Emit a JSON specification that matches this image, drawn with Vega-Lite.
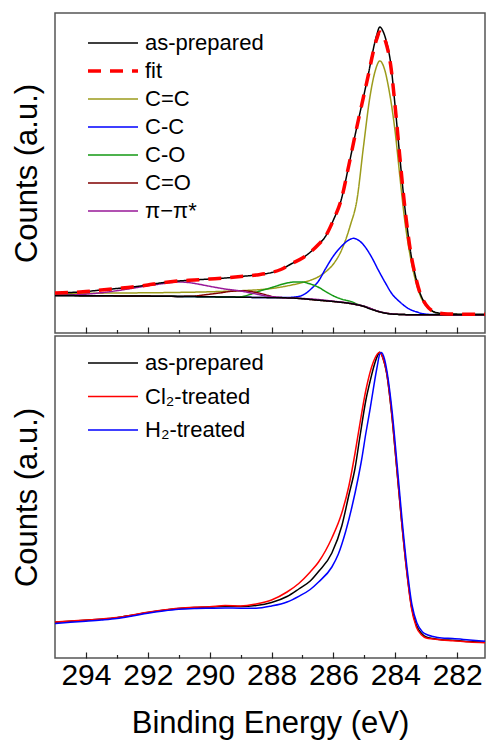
{
  "$schema": "https://vega.github.io/schema/vega-lite/v6.json",
  "padding": {"left": 10, "top": 12, "right": 0, "bottom": 5},
  "spacing": 0,
  "config": {
    "font": "Liberation Sans",
    "view": {"stroke": "#555555", "strokeWidth": 1.5},
    "axis": {"grid": false, "domain": false, "labelFont": "Liberation Sans", "titleFont": "Liberation Sans", "labelColor": "#000000", "titleColor": "#000000", "titleFontWeight": "normal", "tickColor": "#222222", "tickWidth": 1.2},
    "legend": {"labelFont": "Liberation Sans", "labelColor": "#000000", "labelFontSize": 22, "title": null, "orient": "none", "padding": 0, "symbolType": "stroke", "symbolSize": 2500, "symbolOffset": 14, "labelOffset": 21}
  },
  "datasets": {
    "top": [
      {"series": "C=C", "energy": 295, "counts": 39.5},
      {"series": "C=C", "energy": 294, "counts": 39.7},
      {"series": "C=C", "energy": 293, "counts": 40},
      {"series": "C=C", "energy": 292, "counts": 40.2},
      {"series": "C=C", "energy": 291, "counts": 40.6},
      {"series": "C=C", "energy": 290, "counts": 41.2},
      {"series": "C=C", "energy": 289.5, "counts": 41.7},
      {"series": "C=C", "energy": 289, "counts": 42.3},
      {"series": "C=C", "energy": 288.4, "counts": 43.3},
      {"series": "C=C", "energy": 288, "counts": 44.5},
      {"series": "C=C", "energy": 287.35, "counts": 48},
      {"series": "C=C", "energy": 287, "counts": 50.5},
      {"series": "C=C", "energy": 286.5, "counts": 56},
      {"series": "C=C", "energy": 286.26, "counts": 61},
      {"series": "C=C", "energy": 286, "counts": 69},
      {"series": "C=C", "energy": 285.75, "counts": 82},
      {"series": "C=C", "energy": 285.45, "counts": 108},
      {"series": "C=C", "energy": 285.24, "counts": 133},
      {"series": "C=C", "energy": 285.03, "counts": 186},
      {"series": "C=C", "energy": 284.82, "counts": 236},
      {"series": "C=C", "energy": 284.65, "counts": 262},
      {"series": "C=C", "energy": 284.5, "counts": 272},
      {"series": "C=C", "energy": 284.35, "counts": 264},
      {"series": "C=C", "energy": 284.22, "counts": 246},
      {"series": "C=C", "energy": 284, "counts": 200},
      {"series": "C=C", "energy": 283.85, "counts": 156},
      {"series": "C=C", "energy": 283.7, "counts": 114},
      {"series": "C=C", "energy": 283.6, "counts": 92},
      {"series": "C=C", "energy": 283.5, "counts": 74},
      {"series": "C=C", "energy": 283.35, "counts": 53},
      {"series": "C=C", "energy": 283.2, "counts": 38},
      {"series": "C=C", "energy": 283, "counts": 27},
      {"series": "C=C", "energy": 282.8, "counts": 21.6},
      {"series": "C=C", "energy": 282.6, "counts": 19.3},
      {"series": "C=C", "energy": 282.3, "counts": 18.5},
      {"series": "C=C", "energy": 281.1, "counts": 18.3},
      {"series": "C-C", "energy": 295, "counts": 37.5},
      {"series": "C-C", "energy": 292, "counts": 36.9},
      {"series": "C-C", "energy": 289, "counts": 35.8},
      {"series": "C-C", "energy": 288, "counts": 35.4},
      {"series": "C-C", "energy": 287.5, "counts": 35.5},
      {"series": "C-C", "energy": 287.1, "counts": 36.7},
      {"series": "C-C", "energy": 286.9, "counts": 39.5},
      {"series": "C-C", "energy": 286.69, "counts": 45},
      {"series": "C-C", "energy": 286.48, "counts": 52},
      {"series": "C-C", "energy": 286.26, "counts": 64},
      {"series": "C-C", "energy": 286, "counts": 77},
      {"series": "C-C", "energy": 285.73, "counts": 87},
      {"series": "C-C", "energy": 285.5, "counts": 93},
      {"series": "C-C", "energy": 285.35, "counts": 94.7},
      {"series": "C-C", "energy": 285.2, "counts": 93},
      {"series": "C-C", "energy": 284.98, "counts": 86.3},
      {"series": "C-C", "energy": 284.75, "counts": 75},
      {"series": "C-C", "energy": 284.55, "counts": 63},
      {"series": "C-C", "energy": 284.3, "counts": 49},
      {"series": "C-C", "energy": 284.12, "counts": 39.7},
      {"series": "C-C", "energy": 283.85, "counts": 31},
      {"series": "C-C", "energy": 283.59, "counts": 24.7},
      {"series": "C-C", "energy": 283.3, "counts": 21},
      {"series": "C-C", "energy": 283.05, "counts": 19},
      {"series": "C-C", "energy": 282.7, "counts": 18.4},
      {"series": "C-C", "energy": 281.1, "counts": 18.3},
      {"series": "C-O", "energy": 295, "counts": 37.5},
      {"series": "C-O", "energy": 292, "counts": 36.9},
      {"series": "C-O", "energy": 290, "counts": 36.2},
      {"series": "C-O", "energy": 289.3, "counts": 35.9},
      {"series": "C-O", "energy": 289, "counts": 36.2},
      {"series": "C-O", "energy": 288.7, "counts": 38.5},
      {"series": "C-O", "energy": 288.41, "counts": 41.7},
      {"series": "C-O", "energy": 288.1, "counts": 44.5},
      {"series": "C-O", "energy": 287.87, "counts": 46.7},
      {"series": "C-O", "energy": 287.5, "counts": 50},
      {"series": "C-O", "energy": 287.23, "counts": 51},
      {"series": "C-O", "energy": 287, "counts": 51},
      {"series": "C-O", "energy": 286.8, "counts": 49.5},
      {"series": "C-O", "energy": 286.5, "counts": 46},
      {"series": "C-O", "energy": 286.2, "counts": 40.5},
      {"series": "C-O", "energy": 285.94, "counts": 36.3},
      {"series": "C-O", "energy": 285.7, "counts": 33.5},
      {"series": "C-O", "energy": 285.41, "counts": 31.3},
      {"series": "C-O", "energy": 285.2, "counts": 28.5},
      {"series": "C-O", "energy": 285, "counts": 26.7},
      {"series": "C-O", "energy": 284.7, "counts": 23.2},
      {"series": "C-O", "energy": 284.4, "counts": 20.4},
      {"series": "C-O", "energy": 284, "counts": 18.8},
      {"series": "C-O", "energy": 283.5, "counts": 18.3},
      {"series": "C-O", "energy": 281.1, "counts": 18.3},
      {"series": "C=O", "energy": 295, "counts": 37.5},
      {"series": "C=O", "energy": 292, "counts": 36.9},
      {"series": "C=O", "energy": 291, "counts": 36.6},
      {"series": "C=O", "energy": 290.55, "counts": 36.8},
      {"series": "C=O", "energy": 290.2, "counts": 38},
      {"series": "C=O", "energy": 289.69, "counts": 40},
      {"series": "C=O", "energy": 289.3, "counts": 41.7},
      {"series": "C=O", "energy": 288.95, "counts": 42.3},
      {"series": "C=O", "energy": 288.7, "counts": 41.7},
      {"series": "C=O", "energy": 288.41, "counts": 40},
      {"series": "C=O", "energy": 288.1, "counts": 37.5},
      {"series": "C=O", "energy": 287.87, "counts": 35.7},
      {"series": "C=O", "energy": 287.5, "counts": 35.2},
      {"series": "C=O", "energy": 287, "counts": 34.3},
      {"series": "C=O", "energy": 286.5, "counts": 32.8},
      {"series": "C=O", "energy": 286, "counts": 31.5},
      {"series": "C=O", "energy": 285.5, "counts": 29.7},
      {"series": "C=O", "energy": 285, "counts": 26.5},
      {"series": "C=O", "energy": 284.5, "counts": 21.2},
      {"series": "C=O", "energy": 284, "counts": 18.8},
      {"series": "C=O", "energy": 283.5, "counts": 18.3},
      {"series": "C=O", "energy": 281.1, "counts": 18.3},
      {"series": "π−π*", "energy": 295, "counts": 37.7},
      {"series": "π−π*", "energy": 294.5, "counts": 38},
      {"series": "π−π*", "energy": 294, "counts": 38.8},
      {"series": "π−π*", "energy": 293.5, "counts": 40.3},
      {"series": "π−π*", "energy": 293, "counts": 42.3},
      {"series": "π−π*", "energy": 292.5, "counts": 44.7},
      {"series": "π−π*", "energy": 292, "counts": 47.3},
      {"series": "π−π*", "energy": 291.6, "counts": 49},
      {"series": "π−π*", "energy": 291.3, "counts": 50.3},
      {"series": "π−π*", "energy": 291, "counts": 51},
      {"series": "π−π*", "energy": 290.7, "counts": 50.5},
      {"series": "π−π*", "energy": 290.3, "counts": 48.5},
      {"series": "π−π*", "energy": 290, "counts": 46.7},
      {"series": "π−π*", "energy": 289.5, "counts": 44},
      {"series": "π−π*", "energy": 288.95, "counts": 41.7},
      {"series": "π−π*", "energy": 288.5, "counts": 39},
      {"series": "π−π*", "energy": 288.09, "counts": 36.7},
      {"series": "π−π*", "energy": 287.7, "counts": 35.5},
      {"series": "π−π*", "energy": 287.35, "counts": 35},
      {"series": "π−π*", "energy": 286.5, "counts": 33.5},
      {"series": "π−π*", "energy": 286, "counts": 31.8},
      {"series": "π−π*", "energy": 285.5, "counts": 29.9},
      {"series": "π−π*", "energy": 285, "counts": 26.7},
      {"series": "π−π*", "energy": 284.5, "counts": 21.3},
      {"series": "π−π*", "energy": 284, "counts": 18.8},
      {"series": "π−π*", "energy": 283.5, "counts": 18.3},
      {"series": "π−π*", "energy": 281.1, "counts": 18.3},
      {"series": "bg", "energy": 295, "counts": 37.5},
      {"series": "bg", "energy": 294, "counts": 37.3},
      {"series": "bg", "energy": 293, "counts": 37.1},
      {"series": "bg", "energy": 292, "counts": 36.9},
      {"series": "bg", "energy": 291, "counts": 36.6},
      {"series": "bg", "energy": 290, "counts": 36.2},
      {"series": "bg", "energy": 289, "counts": 35.8},
      {"series": "bg", "energy": 288, "counts": 35.3},
      {"series": "bg", "energy": 287.35, "counts": 35},
      {"series": "bg", "energy": 287, "counts": 34.3},
      {"series": "bg", "energy": 286.5, "counts": 32.8},
      {"series": "bg", "energy": 286, "counts": 31.5},
      {"series": "bg", "energy": 285.7, "counts": 30.5},
      {"series": "bg", "energy": 285.45, "counts": 29.5},
      {"series": "bg", "energy": 285.2, "counts": 28},
      {"series": "bg", "energy": 285, "counts": 26.5},
      {"series": "bg", "energy": 284.85, "counts": 24.5},
      {"series": "bg", "energy": 284.7, "counts": 23},
      {"series": "bg", "energy": 284.55, "counts": 21.5},
      {"series": "bg", "energy": 284.35, "counts": 20},
      {"series": "bg", "energy": 284.13, "counts": 19},
      {"series": "bg", "energy": 283.8, "counts": 18.5},
      {"series": "bg", "energy": 283.5, "counts": 18.3},
      {"series": "bg", "energy": 281.1, "counts": 18.3},
      {"series": "as-prepared", "energy": 295, "counts": 40},
      {"series": "as-prepared", "energy": 294.5, "counts": 40.5},
      {"series": "as-prepared", "energy": 294, "counts": 41.5},
      {"series": "as-prepared", "energy": 293.5, "counts": 43},
      {"series": "as-prepared", "energy": 293, "counts": 44.5},
      {"series": "as-prepared", "energy": 292.5, "counts": 46},
      {"series": "as-prepared", "energy": 292, "counts": 48},
      {"series": "as-prepared", "energy": 291.6, "counts": 50},
      {"series": "as-prepared", "energy": 291, "counts": 52},
      {"series": "as-prepared", "energy": 290.5, "counts": 53},
      {"series": "as-prepared", "energy": 290, "counts": 54},
      {"series": "as-prepared", "energy": 289.5, "counts": 55},
      {"series": "as-prepared", "energy": 289, "counts": 56.5},
      {"series": "as-prepared", "energy": 288.5, "counts": 58},
      {"series": "as-prepared", "energy": 288, "counts": 60.5},
      {"series": "as-prepared", "energy": 287.7, "counts": 63.5},
      {"series": "as-prepared", "energy": 287.34, "counts": 69.5},
      {"series": "as-prepared", "energy": 287, "counts": 75},
      {"series": "as-prepared", "energy": 286.8, "counts": 79.5},
      {"series": "as-prepared", "energy": 286.5, "counts": 88},
      {"series": "as-prepared", "energy": 286.26, "counts": 96.5},
      {"series": "as-prepared", "energy": 286, "counts": 113},
      {"series": "as-prepared", "energy": 285.75, "counts": 133},
      {"series": "as-prepared", "energy": 285.5, "counts": 168},
      {"series": "as-prepared", "energy": 285.25, "counts": 205},
      {"series": "as-prepared", "energy": 285, "counts": 240},
      {"series": "as-prepared", "energy": 284.85, "counts": 262},
      {"series": "as-prepared", "energy": 284.75, "counts": 278},
      {"series": "as-prepared", "energy": 284.6, "counts": 298},
      {"series": "as-prepared", "energy": 284.5, "counts": 306},
      {"series": "as-prepared", "energy": 284.4, "counts": 302},
      {"series": "as-prepared", "energy": 284.3, "counts": 293},
      {"series": "as-prepared", "energy": 284.15, "counts": 270},
      {"series": "as-prepared", "energy": 284, "counts": 225},
      {"series": "as-prepared", "energy": 283.85, "counts": 175},
      {"series": "as-prepared", "energy": 283.7, "counts": 128},
      {"series": "as-prepared", "energy": 283.6, "counts": 102},
      {"series": "as-prepared", "energy": 283.5, "counts": 80},
      {"series": "as-prepared", "energy": 283.35, "counts": 57},
      {"series": "as-prepared", "energy": 283.2, "counts": 40},
      {"series": "as-prepared", "energy": 283, "counts": 28},
      {"series": "as-prepared", "energy": 282.8, "counts": 22},
      {"series": "as-prepared", "energy": 282.6, "counts": 20},
      {"series": "as-prepared", "energy": 282.3, "counts": 19},
      {"series": "as-prepared", "energy": 281.1, "counts": 18.7},
      {"series": "fit", "energy": 295, "counts": 40},
      {"series": "fit", "energy": 294.5, "counts": 40.5},
      {"series": "fit", "energy": 294, "counts": 41.5},
      {"series": "fit", "energy": 293.5, "counts": 43},
      {"series": "fit", "energy": 293, "counts": 44.5},
      {"series": "fit", "energy": 292.5, "counts": 46},
      {"series": "fit", "energy": 292, "counts": 48},
      {"series": "fit", "energy": 291.6, "counts": 50},
      {"series": "fit", "energy": 291, "counts": 52},
      {"series": "fit", "energy": 290.5, "counts": 53},
      {"series": "fit", "energy": 290, "counts": 54},
      {"series": "fit", "energy": 289.5, "counts": 55},
      {"series": "fit", "energy": 289, "counts": 56.5},
      {"series": "fit", "energy": 288.5, "counts": 58},
      {"series": "fit", "energy": 288, "counts": 60.5},
      {"series": "fit", "energy": 287.7, "counts": 63.5},
      {"series": "fit", "energy": 287.34, "counts": 69.5},
      {"series": "fit", "energy": 287, "counts": 75},
      {"series": "fit", "energy": 286.8, "counts": 79.5},
      {"series": "fit", "energy": 286.5, "counts": 88},
      {"series": "fit", "energy": 286.26, "counts": 96.5},
      {"series": "fit", "energy": 286, "counts": 113},
      {"series": "fit", "energy": 285.75, "counts": 133},
      {"series": "fit", "energy": 285.5, "counts": 168},
      {"series": "fit", "energy": 285.25, "counts": 205},
      {"series": "fit", "energy": 285, "counts": 240},
      {"series": "fit", "energy": 284.85, "counts": 261},
      {"series": "fit", "energy": 284.75, "counts": 276},
      {"series": "fit", "energy": 284.6, "counts": 294},
      {"series": "fit", "energy": 284.5, "counts": 301},
      {"series": "fit", "energy": 284.4, "counts": 298},
      {"series": "fit", "energy": 284.3, "counts": 290},
      {"series": "fit", "energy": 284.15, "counts": 268},
      {"series": "fit", "energy": 284, "counts": 225},
      {"series": "fit", "energy": 283.85, "counts": 175},
      {"series": "fit", "energy": 283.7, "counts": 128},
      {"series": "fit", "energy": 283.6, "counts": 102},
      {"series": "fit", "energy": 283.5, "counts": 80},
      {"series": "fit", "energy": 283.35, "counts": 57},
      {"series": "fit", "energy": 283.2, "counts": 40},
      {"series": "fit", "energy": 283, "counts": 28},
      {"series": "fit", "energy": 282.8, "counts": 22},
      {"series": "fit", "energy": 282.6, "counts": 20},
      {"series": "fit", "energy": 282.3, "counts": 19},
      {"series": "fit", "energy": 281.1, "counts": 18.7}
    ],
    "bottom": [
      {"series": "as-prepared", "energy": 295, "counts": 35.7},
      {"series": "as-prepared", "energy": 294.5, "counts": 36.7},
      {"series": "as-prepared", "energy": 294, "counts": 37.8},
      {"series": "as-prepared", "energy": 293.5, "counts": 38.8},
      {"series": "as-prepared", "energy": 293, "counts": 40.3},
      {"series": "as-prepared", "energy": 292.5, "counts": 42.8},
      {"series": "as-prepared", "energy": 292, "counts": 45.5},
      {"series": "as-prepared", "energy": 291.5, "counts": 47.8},
      {"series": "as-prepared", "energy": 291, "counts": 49.5},
      {"series": "as-prepared", "energy": 290.5, "counts": 50.5},
      {"series": "as-prepared", "energy": 290, "counts": 51},
      {"series": "as-prepared", "energy": 289.5, "counts": 51.8},
      {"series": "as-prepared", "energy": 289, "counts": 51.5},
      {"series": "as-prepared", "energy": 288.5, "counts": 52.5},
      {"series": "as-prepared", "energy": 288, "counts": 55.5},
      {"series": "as-prepared", "energy": 287.5, "counts": 61.5},
      {"series": "as-prepared", "energy": 287.12, "counts": 69},
      {"series": "as-prepared", "energy": 286.75, "counts": 77},
      {"series": "as-prepared", "energy": 286.48, "counts": 86.5},
      {"series": "as-prepared", "energy": 286.05, "counts": 105},
      {"series": "as-prepared", "energy": 285.73, "counts": 132},
      {"series": "as-prepared", "energy": 285.5, "counts": 163},
      {"series": "as-prepared", "energy": 285.3, "counts": 190},
      {"series": "as-prepared", "energy": 285.14, "counts": 222},
      {"series": "as-prepared", "energy": 284.95, "counts": 258},
      {"series": "as-prepared", "energy": 284.82, "counts": 276},
      {"series": "as-prepared", "energy": 284.66, "counts": 295},
      {"series": "as-prepared", "energy": 284.55, "counts": 304},
      {"series": "as-prepared", "energy": 284.5, "counts": 305.7},
      {"series": "as-prepared", "energy": 284.4, "counts": 300},
      {"series": "as-prepared", "energy": 284.28, "counts": 285},
      {"series": "as-prepared", "energy": 284.12, "counts": 245},
      {"series": "as-prepared", "energy": 283.96, "counts": 192},
      {"series": "as-prepared", "energy": 283.8, "counts": 138},
      {"series": "as-prepared", "energy": 283.64, "counts": 90},
      {"series": "as-prepared", "energy": 283.48, "counts": 52},
      {"series": "as-prepared", "energy": 283.32, "counts": 33},
      {"series": "as-prepared", "energy": 283.15, "counts": 24.5},
      {"series": "as-prepared", "energy": 283, "counts": 21},
      {"series": "as-prepared", "energy": 282.78, "counts": 19.5},
      {"series": "as-prepared", "energy": 282.5, "counts": 18.3},
      {"series": "as-prepared", "energy": 282.14, "counts": 17.8},
      {"series": "as-prepared", "energy": 281.6, "counts": 16.5},
      {"series": "as-prepared", "energy": 281.1, "counts": 15.7},
      {"series": "Cl₂-treated", "energy": 295, "counts": 35.9},
      {"series": "Cl₂-treated", "energy": 294.5, "counts": 36.9},
      {"series": "Cl₂-treated", "energy": 294, "counts": 38},
      {"series": "Cl₂-treated", "energy": 293.5, "counts": 39},
      {"series": "Cl₂-treated", "energy": 293, "counts": 40.5},
      {"series": "Cl₂-treated", "energy": 292.5, "counts": 43},
      {"series": "Cl₂-treated", "energy": 292, "counts": 45.7},
      {"series": "Cl₂-treated", "energy": 291.5, "counts": 48},
      {"series": "Cl₂-treated", "energy": 291, "counts": 49.8},
      {"series": "Cl₂-treated", "energy": 290.5, "counts": 50.8},
      {"series": "Cl₂-treated", "energy": 290, "counts": 51.3},
      {"series": "Cl₂-treated", "energy": 289.5, "counts": 52.5},
      {"series": "Cl₂-treated", "energy": 289, "counts": 52},
      {"series": "Cl₂-treated", "energy": 288.5, "counts": 54},
      {"series": "Cl₂-treated", "energy": 288, "counts": 58},
      {"series": "Cl₂-treated", "energy": 287.5, "counts": 66},
      {"series": "Cl₂-treated", "energy": 287.12, "counts": 74.5},
      {"series": "Cl₂-treated", "energy": 286.75, "counts": 86},
      {"series": "Cl₂-treated", "energy": 286.48, "counts": 96},
      {"series": "Cl₂-treated", "energy": 286.05, "counts": 120},
      {"series": "Cl₂-treated", "energy": 285.73, "counts": 145},
      {"series": "Cl₂-treated", "energy": 285.5, "counts": 172},
      {"series": "Cl₂-treated", "energy": 285.3, "counts": 205},
      {"series": "Cl₂-treated", "energy": 285.14, "counts": 235},
      {"series": "Cl₂-treated", "energy": 284.95, "counts": 268},
      {"series": "Cl₂-treated", "energy": 284.71, "counts": 296},
      {"series": "Cl₂-treated", "energy": 284.55, "counts": 305},
      {"series": "Cl₂-treated", "energy": 284.5, "counts": 305.7},
      {"series": "Cl₂-treated", "energy": 284.4, "counts": 300},
      {"series": "Cl₂-treated", "energy": 284.28, "counts": 285.5},
      {"series": "Cl₂-treated", "energy": 284.12, "counts": 246},
      {"series": "Cl₂-treated", "energy": 283.96, "counts": 193},
      {"series": "Cl₂-treated", "energy": 283.8, "counts": 138},
      {"series": "Cl₂-treated", "energy": 283.64, "counts": 89},
      {"series": "Cl₂-treated", "energy": 283.48, "counts": 50.5},
      {"series": "Cl₂-treated", "energy": 283.32, "counts": 31},
      {"series": "Cl₂-treated", "energy": 283.15, "counts": 23},
      {"series": "Cl₂-treated", "energy": 283, "counts": 20},
      {"series": "Cl₂-treated", "energy": 282.78, "counts": 19},
      {"series": "Cl₂-treated", "energy": 282.5, "counts": 18},
      {"series": "Cl₂-treated", "energy": 282.14, "counts": 17.3},
      {"series": "Cl₂-treated", "energy": 281.6, "counts": 16},
      {"series": "Cl₂-treated", "energy": 281.1, "counts": 15.3},
      {"series": "H₂-treated", "energy": 295, "counts": 34.5},
      {"series": "H₂-treated", "energy": 294.5, "counts": 35.7},
      {"series": "H₂-treated", "energy": 294, "counts": 36.8},
      {"series": "H₂-treated", "energy": 293.5, "counts": 38},
      {"series": "H₂-treated", "energy": 293, "counts": 39.5},
      {"series": "H₂-treated", "energy": 292.5, "counts": 42},
      {"series": "H₂-treated", "energy": 292, "counts": 44.8},
      {"series": "H₂-treated", "energy": 291.5, "counts": 47},
      {"series": "H₂-treated", "energy": 291, "counts": 48.7},
      {"series": "H₂-treated", "energy": 290.5, "counts": 49.5},
      {"series": "H₂-treated", "energy": 290, "counts": 49.8},
      {"series": "H₂-treated", "energy": 289.5, "counts": 50},
      {"series": "H₂-treated", "energy": 289, "counts": 49.8},
      {"series": "H₂-treated", "energy": 288.5, "counts": 49.8},
      {"series": "H₂-treated", "energy": 288, "counts": 52},
      {"series": "H₂-treated", "energy": 287.5, "counts": 56},
      {"series": "H₂-treated", "energy": 287.12, "counts": 61.7},
      {"series": "H₂-treated", "energy": 286.75, "counts": 68.5},
      {"series": "H₂-treated", "energy": 286.48, "counts": 76},
      {"series": "H₂-treated", "energy": 286.05, "counts": 91},
      {"series": "H₂-treated", "energy": 285.84, "counts": 104},
      {"series": "H₂-treated", "energy": 285.6, "counts": 127},
      {"series": "H₂-treated", "energy": 285.41, "counts": 150},
      {"series": "H₂-treated", "energy": 285.2, "counts": 180},
      {"series": "H₂-treated", "energy": 285.09, "counts": 198},
      {"series": "H₂-treated", "energy": 284.95, "counts": 225},
      {"series": "H₂-treated", "energy": 284.82, "counts": 248},
      {"series": "H₂-treated", "energy": 284.6, "counts": 289},
      {"series": "H₂-treated", "energy": 284.5, "counts": 304},
      {"series": "H₂-treated", "energy": 284.45, "counts": 305.5},
      {"series": "H₂-treated", "energy": 284.35, "counts": 299},
      {"series": "H₂-treated", "energy": 284.26, "counts": 285},
      {"series": "H₂-treated", "energy": 284.1, "counts": 246},
      {"series": "H₂-treated", "energy": 283.94, "counts": 193},
      {"series": "H₂-treated", "energy": 283.78, "counts": 138},
      {"series": "H₂-treated", "energy": 283.62, "counts": 90},
      {"series": "H₂-treated", "energy": 283.46, "counts": 53},
      {"series": "H₂-treated", "energy": 283.3, "counts": 35},
      {"series": "H₂-treated", "energy": 283.12, "counts": 26},
      {"series": "H₂-treated", "energy": 282.95, "counts": 23},
      {"series": "H₂-treated", "energy": 282.78, "counts": 21.5},
      {"series": "H₂-treated", "energy": 282.5, "counts": 20},
      {"series": "H₂-treated", "energy": 282.14, "counts": 19.5},
      {"series": "H₂-treated", "energy": 281.6, "counts": 18},
      {"series": "H₂-treated", "energy": 281.1, "counts": 16.7}
    ]
  },
  "vconcat": [
    {
      "width": 430,
      "height": 320,
      "layer": [
        {
          "data": {"name": "top"},
          "transform": [{"filter": "datum.series !== 'fit'"}],
          "mark": {"type": "line", "interpolate": "monotone", "strokeWidth": 1.5},
          "encoding": {
            "x": {"field": "energy", "type": "quantitative", "scale": {"domain": [295, 281.1], "nice": false, "zero": false}, "axis": {"orient": "bottom", "values": [294, 292, 290, 288, 286, 284, 282], "tickSize": -6, "labels": false, "title": null, "minExtent": 0, "maxExtent": 0}},
            "y": {"field": "counts", "type": "quantitative", "scale": {"domain": [0, 320], "nice": false, "zero": false}, "axis": {"ticks": false, "labels": false, "title": "Counts (a.u.)", "titleFontSize": 31, "titlePadding": 12}},
            "color": {"field": "series", "type": "nominal", "scale": {"domain": ["as-prepared", "fit", "C=C", "C-C", "C-O", "C=O", "π−π*", "bg"], "range": ["#000000", "#ff0000", "#9c9c1c", "#0000ff", "#159915", "#800000", "#981898", "#000000"]}, "legend": {"values": ["as-prepared", "fit", "C=C", "C-C", "C-O", "C=O", "π−π*"], "legendX": 33, "legendY": 19, "rowPadding": 6, "symbolStrokeWidth": {"expr": "datum.value === 'fit' ? 3.5 : 1.5"}}},
            "strokeDash": {"field": "series", "type": "nominal", "scale": {"domain": ["as-prepared", "fit", "C=C", "C-C", "C-O", "C=O", "π−π*", "bg"], "range": [[1, 0], [13, 9], [1, 0], [1, 0], [1, 0], [1, 0], [1, 0], [1, 0]]}, "legend": {"values": ["as-prepared", "fit", "C=C", "C-C", "C-O", "C=O", "π−π*"], "legendX": 33, "legendY": 19, "rowPadding": 6, "symbolStrokeWidth": {"expr": "datum.value === 'fit' ? 3.5 : 1.5"}}}
          }
        },
        {
          "data": {"name": "top"},
          "transform": [{"filter": "datum.series === 'fit'"}],
          "mark": {"type": "line", "interpolate": "monotone", "strokeWidth": 3.5},
          "encoding": {
            "x": {"field": "energy", "type": "quantitative", "axis": null},
            "y": {"field": "counts", "type": "quantitative"},
            "color": {"field": "series", "type": "nominal"},
            "strokeDash": {"field": "series", "type": "nominal"}
          }
        },
        {
          "data": {"name": "top"},
          "mark": {"type": "point", "opacity": 0},
          "encoding": {
            "x": {"field": "energy", "type": "quantitative", "axis": {"orient": "bottom", "values": [293, 291, 289, 287, 285, 283], "tickSize": -3.5, "labels": false, "title": null, "minExtent": 0, "maxExtent": 0}}
          }
        }
      ],
      "resolve": {"axis": {"x": "independent"}}
    },
    {
      "width": 430,
      "height": 322,
      "layer": [
        {
          "data": {"name": "bottom"},
          "mark": {"type": "line", "interpolate": "monotone", "strokeWidth": 1.5},
          "encoding": {
            "x": {"field": "energy", "type": "quantitative", "scale": {"domain": [295, 281.1], "nice": false, "zero": false}, "axis": {"orient": "bottom", "values": [294, 292, 290, 288, 286, 284, 282], "tickSize": -6, "labelFontSize": 30, "labelPadding": 8, "title": "Binding Energy (eV)", "titleFontSize": 31, "titlePadding": 18}},
            "y": {"field": "counts", "type": "quantitative", "scale": {"domain": [0, 322], "nice": false, "zero": false}, "axis": {"ticks": false, "labels": false, "title": "Counts (a.u.)", "titleFontSize": 31, "titlePadding": 12}},
            "color": {"field": "series", "type": "nominal", "scale": {"domain": ["as-prepared", "Cl₂-treated", "H₂-treated"], "range": ["#000000", "#ff0000", "#0000ff"]}, "legend": {"legendX": 33, "legendY": 16, "rowPadding": 11.5, "symbolStrokeWidth": {"expr": "datum.value === 'none' ? 3.5 : 1.5"}}}
          }
        },
        {
          "data": {"name": "bottom"},
          "mark": {"type": "point", "opacity": 0},
          "encoding": {
            "x": {"field": "energy", "type": "quantitative", "axis": {"orient": "bottom", "values": [293, 291, 289, 287, 285, 283], "tickSize": -3.5, "labels": false, "title": null}}
          }
        }
      ],
      "resolve": {"axis": {"x": "independent"}}
    }
  ],
  "resolve": {"scale": {"color": "independent", "strokeDash": "independent", "x": "independent", "y": "independent"}}
}
